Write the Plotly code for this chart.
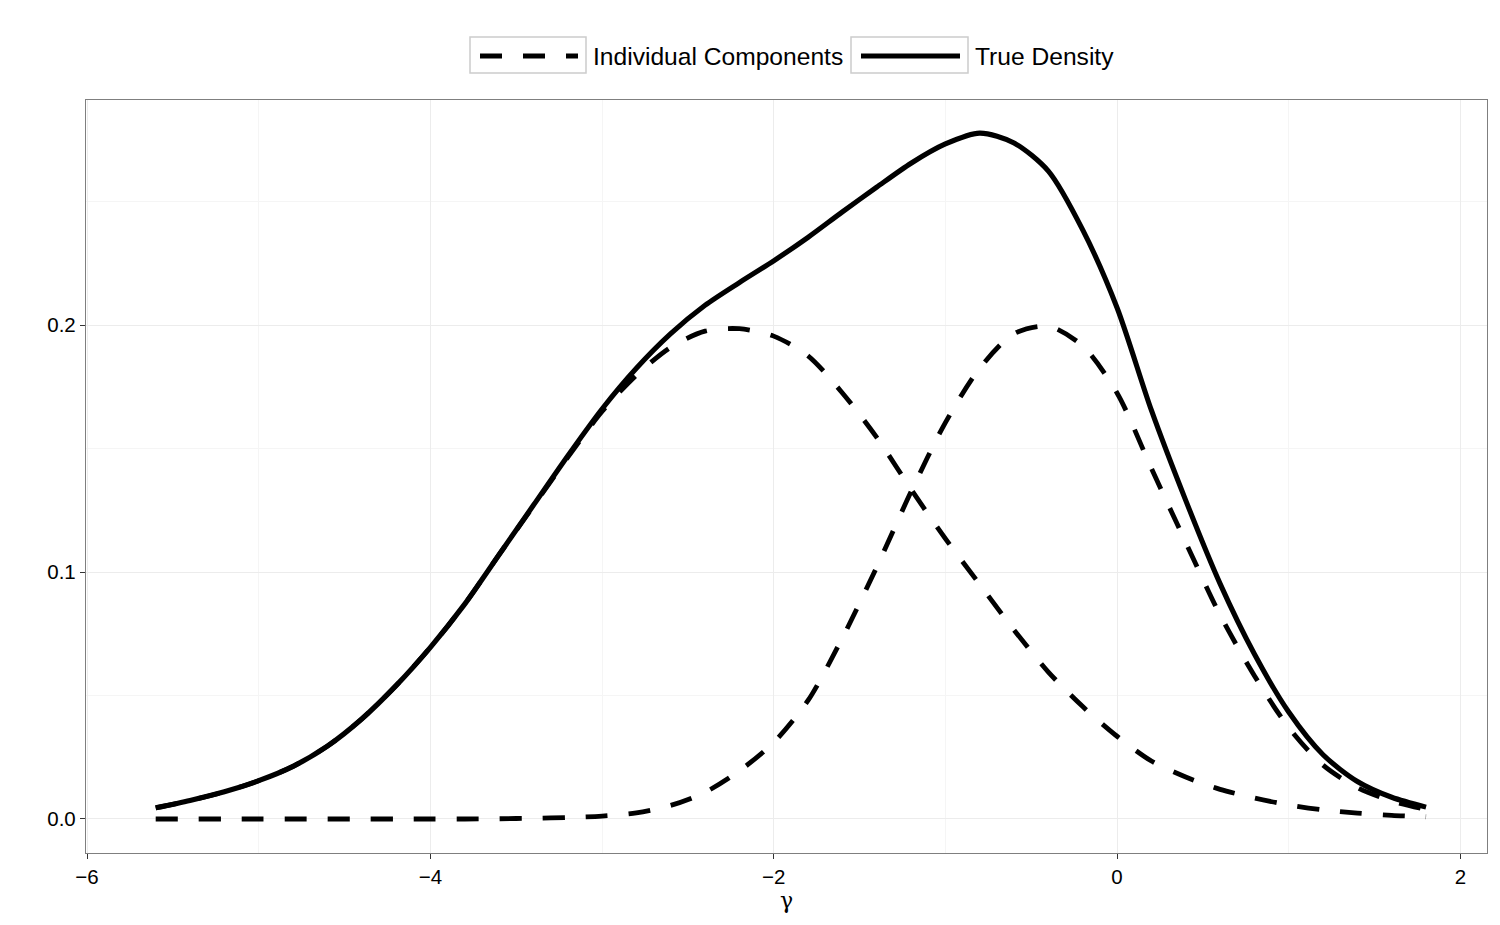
import plotly.graph_objects as go

# ---- data ----
x_grid = [-5.6, -5.4, -5.2, -5.0, -4.8, -4.6, -4.4, -4.2, -4.0, -3.8, -3.6, -3.4, -3.2,
          -3.0, -2.8, -2.6, -2.4, -2.2, -2.0, -1.8, -1.6, -1.4, -1.2, -1.0, -0.8, -0.6,
          -0.4, -0.2, 0.0, 0.2, 0.4, 0.6, 0.8, 1.0, 1.2, 1.4, 1.6, 1.8]

true_density = [0.0045, 0.0075, 0.011, 0.0155, 0.0213, 0.0295, 0.0405, 0.054, 0.0695, 0.087,
                0.107, 0.127, 0.147, 0.166, 0.1825, 0.1965, 0.208, 0.2172, 0.226, 0.2355,
                0.2458, 0.2558, 0.2655, 0.2733, 0.2777, 0.2737, 0.2623, 0.2385, 0.207,
                0.1655, 0.129, 0.0953, 0.0668, 0.0433, 0.026, 0.0152, 0.0088, 0.0048]

component_left = [0.0045, 0.0075, 0.011, 0.0155, 0.0213, 0.0295, 0.0405, 0.054, 0.0695, 0.087,
                  0.107, 0.1267, 0.1464, 0.165, 0.1797, 0.191, 0.1975, 0.1985, 0.1955,
                  0.1875, 0.1725, 0.1545, 0.1335, 0.1135, 0.095, 0.0765, 0.0595, 0.0455,
                  0.0335, 0.0235, 0.017, 0.012, 0.0085, 0.0057, 0.0037, 0.0024, 0.0015,
                  0.0009]

component_right = [0.0, 0.0, 0.0, 0.0, 0.0, 0.0, 0.0, 0.0, 0.0, 0.0, 0.0001, 0.0003, 0.0006,
                   0.0012, 0.0025, 0.0055, 0.0108, 0.0195, 0.031, 0.048, 0.0733, 0.102,
                   0.1325, 0.1605, 0.1825, 0.1965, 0.1995, 0.1915, 0.1725, 0.142, 0.112,
                   0.0826, 0.058, 0.037, 0.0218, 0.0127, 0.0073, 0.0039]

x_ticks = [-6, -4, -2, 0, 2]
y_ticks = [0.0, 0.1, 0.2]
legend_labels = ["Individual Components", "True Density"]

# ---- layout geometry (pixels) ----
W, H = 1500, 925
L, R, T, B = 86, 1487, 100, 853


def px(xp):
    return (xp - L) / (R - L)


def py(yp):
    return (B - yp) / (B - T)


FONT = "Liberation Sans, Arial, Helvetica, sans-serif"
DASH = "22px,21px"
LW = 4.8

fig = go.Figure()
for comp in (component_left, component_right):
    fig.add_trace(go.Scatter(x=x_grid, y=comp, mode="lines", name=legend_labels[0],
                             line=dict(color="black", width=LW, dash=DASH, shape="spline",
                                       smoothing=0.8),
                             showlegend=False))
fig.add_trace(go.Scatter(x=x_grid, y=true_density, mode="lines", name=legend_labels[1],
                         line=dict(color="black", width=LW + 0.3, shape="spline",
                                   smoothing=0.8),
                         showlegend=False))

# ---- ggplot-style legend (keys with grey borders) ----
shapes = []
annotations = []
boxes = [(470, 586), (851, 968)]
styles = [DASH, "solid"]
for (x0, x1), lab, dsh in zip(boxes, legend_labels, styles):
    shapes.append(dict(type="rect", xref="paper", yref="paper",
                       x0=px(x0), x1=px(x1), y0=py(73), y1=py(37),
                       line=dict(color="#cccccc", width=1.5), fillcolor="white"))
    shapes.append(dict(type="line", xref="paper", yref="paper",
                       x0=px(x0 + 10), x1=px(x1 - 8), y0=py(56), y1=py(56),
                       line=dict(color="black", width=LW + 0.3, dash=dsh)))
    annotations.append(dict(xref="paper", yref="paper", x=px(x1 + 5), y=py(56),
                            text=lab, showarrow=False, xanchor="left", yanchor="middle",
                            font=dict(size=24.6, color="black", family=FONT)))

axis_common = dict(showline=True, linecolor="#7f7f7f", linewidth=1.3, mirror=True,
                   ticks="outside", ticklen=5, tickcolor="#333333", tickwidth=1.3,
                   zeroline=False, gridcolor="#ececec", gridwidth=1,
                   tickfont=dict(size=20.5, color="black", family=FONT))

fig.update_layout(
    width=W, height=H,
    margin=dict(l=L, r=W - R, t=T, b=H - B),
    paper_bgcolor="white", plot_bgcolor="white",
    showlegend=False,
    shapes=shapes, annotations=annotations,
    xaxis=dict(range=[-6.006, 2.155], tickvals=x_ticks,
               minor=dict(tickvals=[-5, -3, -1, 1], showgrid=True, gridcolor="#f5f5f5",
                          ticks=""),
               title=dict(text="γ", standoff=0,
                          font=dict(size=22, color="black",
                                    family="DejaVu Serif, serif")),
               **axis_common),
    yaxis=dict(range=[-0.01377, 0.2911], tickvals=y_ticks, tickformat=".1f",
               minor=dict(tickvals=[0.05, 0.15, 0.25], showgrid=True, gridcolor="#f5f5f5",
                          ticks=""),
               **axis_common),
)

fig.write_html("out.html")
